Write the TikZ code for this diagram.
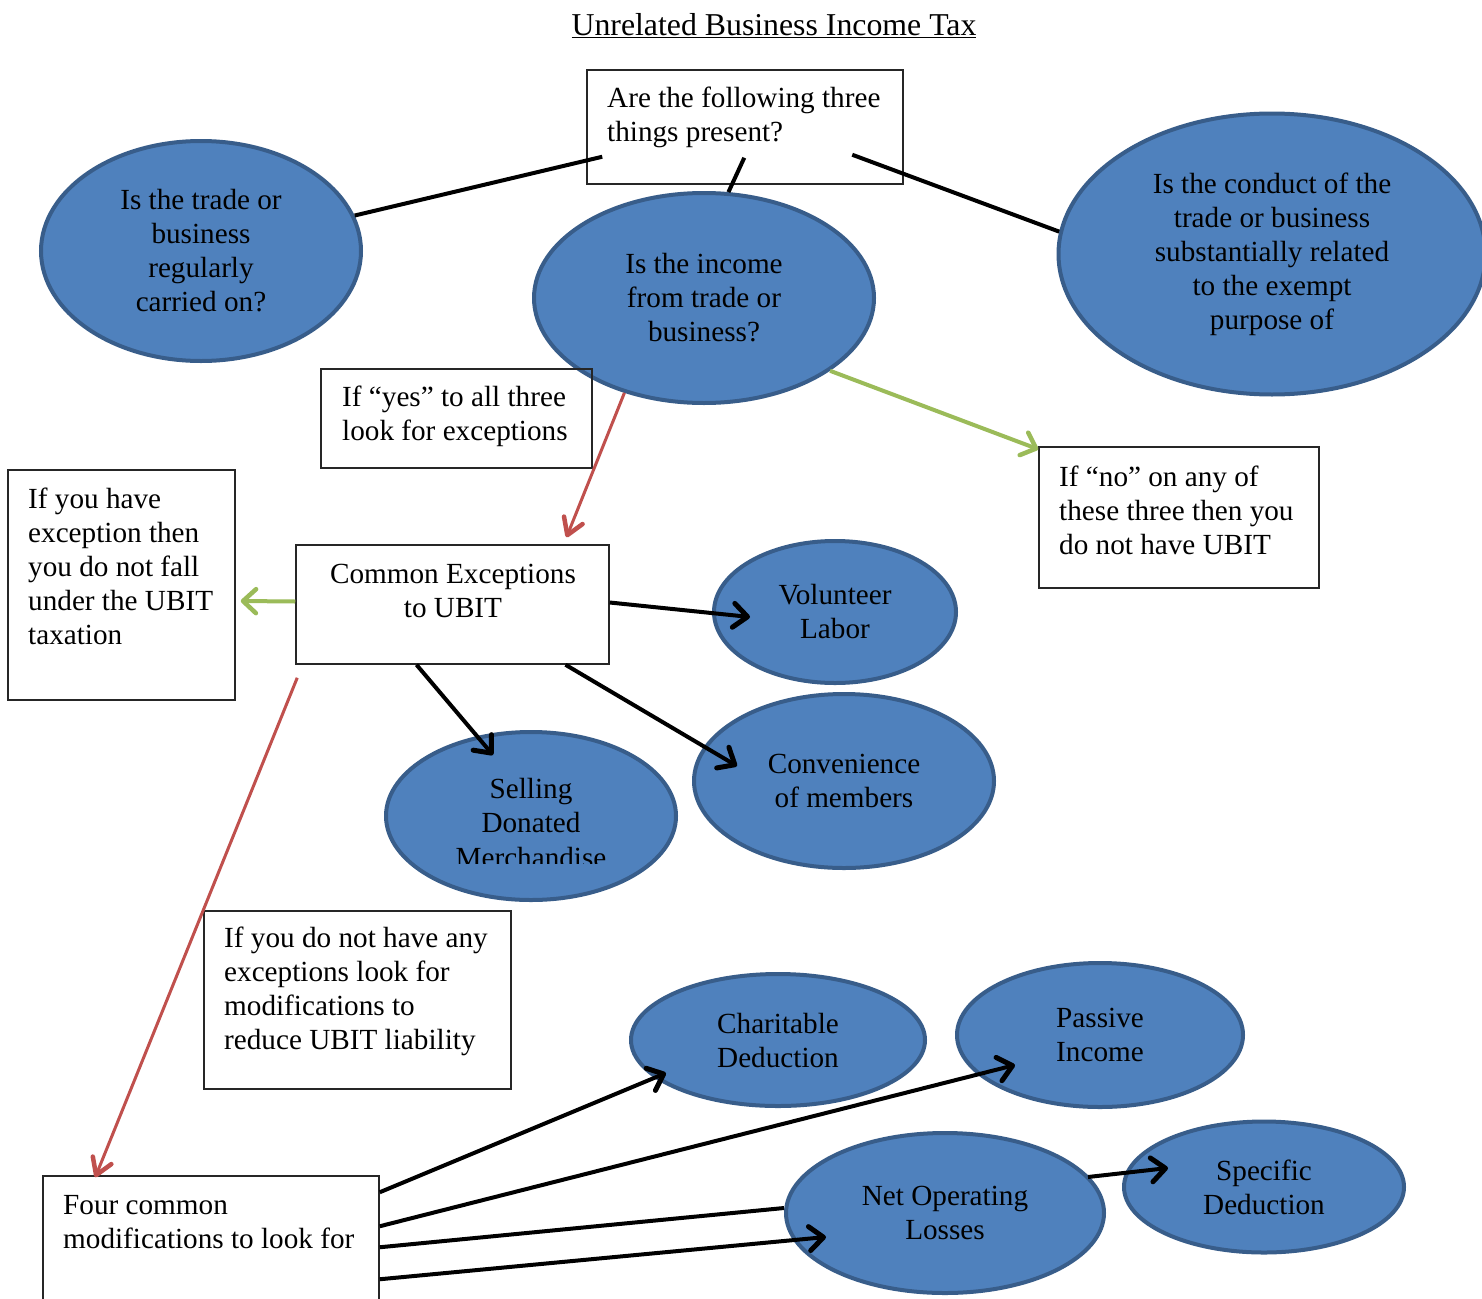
\documentclass[tikz,border=0pt]{standalone}
\usepackage{fontspec}
\setmainfont{Liberation Serif}
\usetikzlibrary{arrows.meta,shapes.geometric}
\definecolor{ellfill}{HTML}{4F81BD}
\definecolor{ellline}{HTML}{385D8A}
\definecolor{redarr}{HTML}{C0504D}
\definecolor{greenarr}{HTML}{9BBB59}
\begin{document}
\begin{tikzpicture}[x=1pt,y=-1pt,
  every node/.style={font=\fontsize{29.2}{34}\selectfont},
  oval/.style={ellipse, draw=ellline, line width=4pt, fill=ellfill, inner sep=0pt, align=center},
  box/.style={rectangle, draw=black!85, line width=1.5pt, inner sep=0pt},
  txt/.style={inner sep=0pt, align=left, anchor=west},
  blk/.style={line width=4pt, draw=black},
  barb/.style={-{Straight Barb[length=14pt,width=24pt,line width=5pt,round]}},
  redarrow/.style={draw=redarr, line width=3pt, -{Straight Barb[length=16pt,width=20pt,line width=4.5pt,round]}},
  greenarrow/.style={draw=greenarr, line width=4pt, -{Straight Barb[length=13pt,width=24pt,line width=4.5pt,round]}},
]
\clip (0,0) rectangle (1482,1298);
\fill[white] (0,0) rectangle (1482,1298);

% title
\node[font=\fontsize{31.8}{36}\selectfont] (title) at (774,26) {\underline{Unrelated Business Income Tax}};

% question box
\node[box, minimum width=316pt, minimum height=114pt] (q) at (745,127) {};
\node[txt] (qt) at (607,117) {Are the following three\\things present?};

% three criteria
\node[oval, minimum width=320pt, minimum height=220pt] (e1) at (201,251) {Is the trade or\\business\\regularly\\carried on?};
\node[oval, minimum width=340pt, minimum height=210pt] (e2) at (704,298) {Is the income\\from trade or\\business?};
\node[oval, minimum width=427pt, minimum height=281pt] (e3) at (1272,254) {Is the conduct of the\\trade or business\\substantially related\\to the exempt\\purpose of};

\draw[blk] ([xshift=16pt,yshift=28pt]q.south west) -- (e1.13);
\draw[blk] ([xshift=158pt,yshift=27pt]q.south west) -- (e2.77);
\draw[blk] ([xshift=266pt,yshift=30pt]q.south west) -- (e3.174);

% yes / no boxes
\node[box, minimum width=271pt, minimum height=99pt] (yb) at (456.5,418.5) {};
\node[txt] (ybt) at (342,416) {If “yes” to all three\\look for exceptions};

\node[box, minimum width=280pt, minimum height=141pt] (nb) at (1179,517.5) {};
\node[txt] (nbt) at (1059,510) {If “no” on any of\\these three then you\\do not have UBIT};

% common exceptions
\node[box, minimum width=313pt, minimum height=119pt] (ce) at (452.5,604.5) {};
\node[inner sep=0pt, align=center] (cet) at (453,591) {Common Exceptions\\to UBIT};

\node[box, minimum width=227pt, minimum height=230pt] (ex) at (121.5,585) {};
\node[txt] (ext) at (28,566) {If you have\\exception then\\you do not fall\\under the UBIT\\taxation};

\draw[redarrow] (e2.230) -- ([xshift=114pt,yshift=7pt]ce.north);
\draw[greenarrow] (e2.330) -- ([yshift=-3pt]nb.north west);
\draw[greenarrow] ([yshift=3pt]ce.west) -- ([xshift=5pt,yshift=-16pt]ex.east);

% exceptions
\node[oval, minimum width=242pt, minimum height=142pt] (vl) at (835,612) {Volunteer\\Labor};
\node[oval, minimum width=290pt, minimum height=168pt] (sd) at (531,816) {};
\begin{scope}
\clip (386,740) rectangle (676,863);
\node[inner sep=0pt, align=center] (sdt) at (531,823) {Selling\\Donated\\Merchandise};
\end{scope}
\node[oval, minimum width=300pt, minimum height=174pt] (cm) at (844,781) {Convenience\\of members};

\draw[blk, barb] ([yshift=2pt]ce.east) -- ([xshift=-85pt,yshift=-5pt]vl.center);
\draw[blk, barb] ([xshift=-36pt]ce.south) -- ([xshift=-38pt,yshift=61pt]sd.center);
\draw[blk, barb] ([xshift=113pt]ce.south) -- ([xshift=-107pt,yshift=15pt]cm.center);

% modifications
\node[box, minimum width=307pt, minimum height=178pt] (mb) at (357.5,1000) {};
\node[txt] (mbt) at (224,991) {If you do not have any\\exceptions look for\\modifications to\\reduce UBIT liability};

\node[box, minimum width=336pt, minimum height=144pt] (fc) at (211,1248) {};
\node[txt] (fct) at (63,1222) {Four common\\modifications to look for};

\draw[redarrow] ([xshift=2pt,yshift=-13pt]ce.south west) -- ([xshift=53pt,yshift=-2pt]fc.north west);

\node[oval, minimum width=294pt, minimum height=132pt] (cd) at (778,1040) {Charitable\\Deduction};
\node[oval, minimum width=286pt, minimum height=144pt] (pi) at (1100,1035) {Passive\\Income};
\node[oval, minimum width=318pt, minimum height=160pt] (no) at (945,1213) {Net Operating\\Losses};
\node[oval, minimum width=280pt, minimum height=131pt] (sp) at (1264,1187) {Specific\\Deduction};

\draw[blk, barb] ([yshift=-17pt]fc.north east) -- ([xshift=-112pt,yshift=-33pt]cd.center);
\draw[blk, barb] ([yshift=-51pt]fc.north east) -- ([xshift=-85pt,yshift=-30pt]pi.center);
\draw[blk] ([yshift=-72pt]fc.north east) -- ([yshift=5pt]no.west);
\draw[blk, barb] ([yshift=-104pt]fc.north east) -- ([xshift=-119pt,yshift=-24pt]no.center);
\draw[blk, barb] ([xshift=143pt,yshift=36pt]no.center) -- ([xshift=-96pt,yshift=19pt]sp.center);
\end{tikzpicture}
\end{document}
